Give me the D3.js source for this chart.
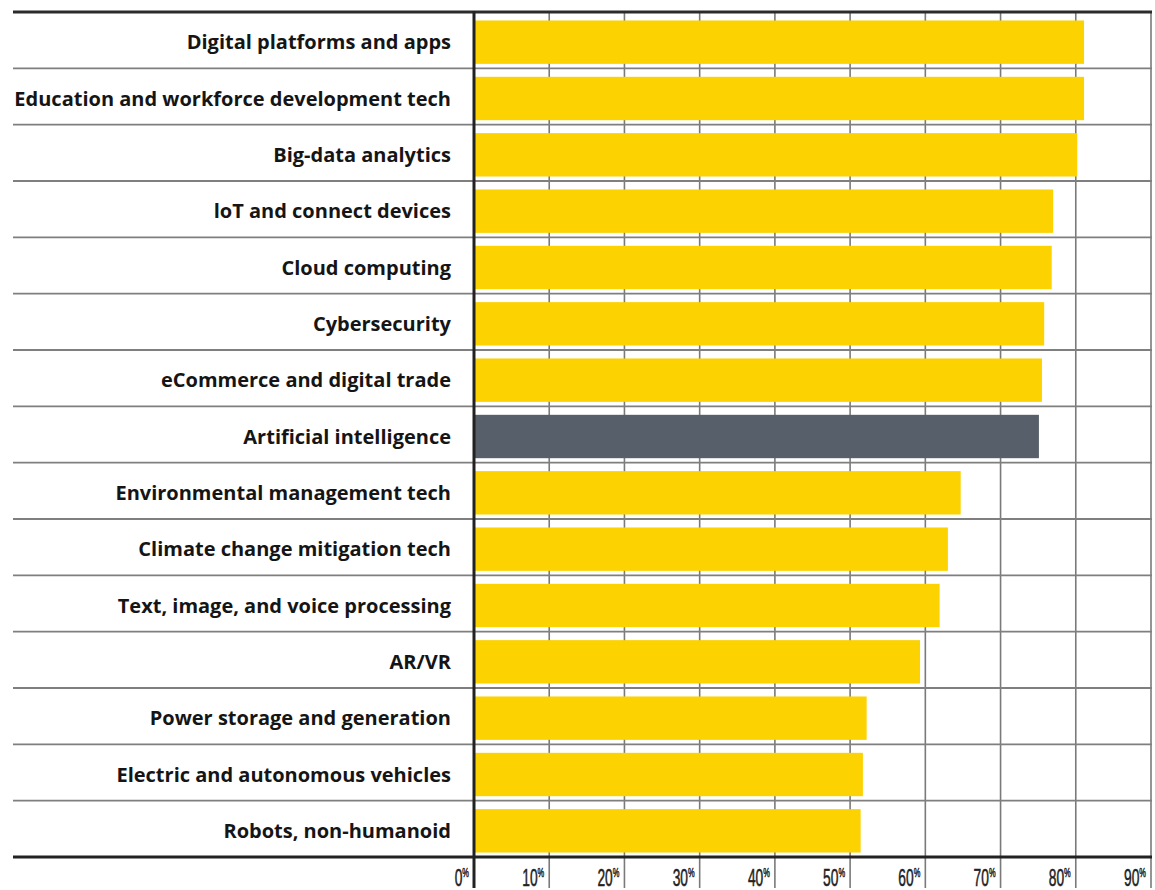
<!DOCTYPE html>
<html>
<head>
<meta charset="utf-8">
<script src="https://cdn.jsdelivr.net/npm/d3@7"></script>
<style>
  html, body { margin: 0; padding: 0; background: #fff; }
  svg { display: block; }
</style>
</head>
<body>
<svg id="chart" width="1155" height="890"></svg>
<script>
const categories = [
  "Digital platforms and apps",
  "Education and workforce development tech",
  "Big-data analytics",
  "loT and connect devices",
  "Cloud computing",
  "Cybersecurity",
  "eCommerce and digital trade",
  "Artificial intelligence",
  "Environmental management tech",
  "Climate change mitigation tech",
  "Text, image, and voice processing",
  "AR/VR",
  "Power storage and generation",
  "Electric and autonomous vehicles",
  "Robots, non-humanoid"
];
const values = [81.1, 81.1, 80.2, 77.0, 76.8, 75.8, 75.5, 75.1, 64.7, 63.0, 61.9, 59.3, 52.2, 51.7, 51.4];
const highlighted = ["Artificial intelligence"];
const tickValues = [0, 10, 20, 30, 40, 50, 60, 70, 80, 90];

(function () {
const svg = d3.select("#chart");
const mLeft = 474, mRight = 1151, mTop = 12, mBottom = 857, frameLeft = 13, tickBottom = 888;

const x = d3.scaleLinear().domain([0, 90]).range([mLeft, mRight]);
const y = d3.scaleBand().domain(categories).range([mTop, mBottom]).paddingInner(0.23).paddingOuter(0.115);
const step = y.step();

// vertical gridlines (behind bars), extending down as ticks
svg.append("g").selectAll("line").data(tickValues.filter(t => t > 0)).join("line")
  .attr("x1", d => x(d)).attr("x2", d => x(d))
  .attr("y1", mTop).attr("y2", tickBottom)
  .attr("stroke", "#7a7a7a").attr("stroke-width", 1.6);

// row separators
svg.append("g").selectAll("line").data(categories.slice(1)).join("line")
  .attr("x1", frameLeft).attr("x2", mRight + 1)
  .attr("y1", (d, i) => mTop + step * (i + 1)).attr("y2", (d, i) => mTop + step * (i + 1))
  .attr("stroke", "#7f7f7f").attr("stroke-width", 1.8);

// bars
svg.append("g").selectAll("rect").data(categories).join("rect")
  .attr("x", x(0))
  .attr("y", d => y(d) + 2)
  .attr("width", (d, i) => x(values[i]) - x(0))
  .attr("height", y.bandwidth())
  .attr("fill", d => highlighted.includes(d) ? "#565f6a" : "#fcd200");

// top frame line
svg.append("line").attr("x1", frameLeft).attr("x2", mRight + 1)
  .attr("y1", mTop).attr("y2", mTop).attr("stroke", "#2b2b2b").attr("stroke-width", 3);
// bottom axis line
svg.append("line").attr("x1", frameLeft).attr("x2", mRight + 1)
  .attr("y1", mBottom).attr("y2", mBottom).attr("stroke", "#222").attr("stroke-width", 3);
// zero axis
svg.append("line").attr("x1", x(0)).attr("x2", x(0))
  .attr("y1", mTop - 1).attr("y2", tickBottom).attr("stroke", "#222").attr("stroke-width", 3);

// category labels
svg.append("g").selectAll("text").data(categories).join("text")
  .attr("x", 451)
  .attr("y", d => y(d) + y.bandwidth() / 2 + 2)
  .attr("dy", "0.35em")
  .attr("text-anchor", "end")
  .attr("font-family", "'Open Sans', Lato, sans-serif")
  .attr("font-weight", 700)
  .attr("font-size", 20)
  .attr("fill", "#151515")
  .text(d => d);

// tick labels (condensed digits with superscript %)
const tl = svg.append("g").selectAll("text").data(tickValues).join("text")
  .attr("transform", d => `translate(${x(d) - 5},885.5) scale(0.6,1)`)
  .attr("text-anchor", "end")
  .attr("font-family", "'Liberation Sans', Arial, sans-serif")
  .attr("font-size", 23)
  .attr("fill", "#222")
  .attr("stroke", "#222")
  .attr("stroke-width", 0.5);
tl.append("tspan").text(d => d);
tl.append("tspan").attr("font-size", 12.5).attr("dy", -8.5).text("%");
})();
</script>
</body>
</html>
